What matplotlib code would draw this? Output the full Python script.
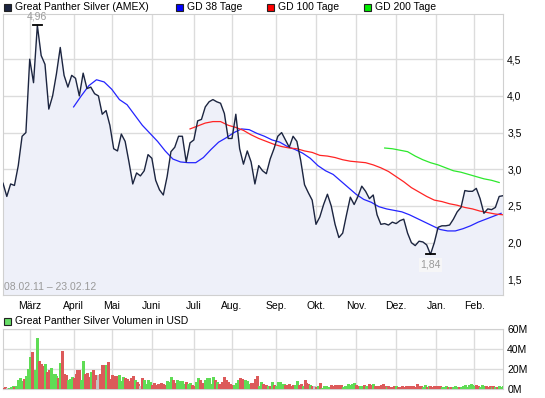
import numpy as np
import pandas as pd
import matplotlib
matplotlib.use("Agg")
import matplotlib.pyplot as plt
from matplotlib.patches import Rectangle

W, H = 545, 398
plt.rcParams["font.family"] = ["Liberation Sans", "DejaVu Sans"]
FS = 7.5

# ---- data ----
START, END = "2011-02-08", "2012-02-23"
HOLIDAYS = ["2011-02-21", "2011-04-22", "2011-05-30", "2011-07-04", "2011-09-05",
            "2011-11-24", "2011-12-26", "2012-01-02", "2012-01-16", "2012-02-20"]
MONTHS = ["2011-03-01", "2011-04-01", "2011-05-01", "2011-06-01", "2011-07-01", "2011-08-01",
          "2011-09-01", "2011-10-01", "2011-11-01", "2011-12-01", "2012-01-01", "2012-02-01"]
MONTH_LABELS = ["März", "April", "Mai", "Juni", "Juli", "Aug.", "Sep.", "Okt.", "Nov.",
                "Dez.", "Jan.", "Feb."]

# close price, every 2nd trading day
PRICE_STEP = 2
PRICE = [2.81, 2.63, 2.80, 2.78, 3.05, 3.45, 3.50, 4.50, 4.18, 4.96,
         4.55, 4.43, 3.82, 4.00, 4.30, 4.66, 4.28, 4.12, 4.28, 4.24,
         4.00, 4.31, 4.10, 4.12, 4.03, 4.00, 3.75, 3.80, 3.60, 3.28,
         3.25, 3.48, 3.38, 3.10, 2.80, 2.95, 2.91, 2.98, 3.20, 3.15,
         2.85, 2.72, 2.65, 2.90, 3.24, 3.30, 3.45, 3.45, 3.10, 3.36,
         3.40, 3.66, 3.68, 3.85, 3.92, 3.95, 3.92, 3.90, 3.76, 3.42,
         3.42, 3.75, 3.28, 3.07, 3.25, 3.10, 2.80, 3.05, 2.98, 2.94,
         3.14, 3.28, 3.45, 3.50, 3.40, 3.30, 3.45, 3.38, 3.12, 2.79,
         2.68, 2.58, 2.25, 2.35, 2.52, 2.66, 2.50, 2.25, 2.07, 2.13,
         2.38, 2.62, 2.52, 2.63, 2.77, 2.70, 2.60, 2.65, 2.38, 2.25,
         2.26, 2.24, 2.28, 2.26, 2.30, 2.32, 2.13, 2.00, 1.96, 2.02,
         2.01, 1.97, 1.84, 2.00, 2.21, 2.23, 2.23, 2.24, 2.32, 2.42,
         2.48, 2.71, 2.70, 2.70, 2.74, 2.60, 2.40, 2.46, 2.45, 2.48,
         2.63, 2.64]

# moving averages, every 4th trading day from the given day
MA_STEP = 4
GD38_FROM = 37
GD38 = [3.85, 4.00, 4.14, 4.22, 4.19, 4.09, 3.95, 3.88, 3.74, 3.60,
        3.49, 3.38, 3.25, 3.14, 3.10, 3.09, 3.09, 3.16, 3.27, 3.37,
        3.43, 3.50, 3.55, 3.54, 3.49, 3.45, 3.40, 3.37, 3.31, 3.27,
        3.22, 3.15, 3.05, 2.98, 2.93, 2.84, 2.75, 2.66, 2.59, 2.55,
        2.49, 2.46, 2.44, 2.42, 2.38, 2.33, 2.28, 2.23, 2.18, 2.16,
        2.16, 2.19, 2.23, 2.28, 2.32, 2.36, 2.40]
GD100_FROM = 98
GD100 = [3.55, 3.59, 3.63, 3.65, 3.65, 3.60, 3.57, 3.53, 3.47, 3.42,
         3.38, 3.34, 3.31, 3.29, 3.28, 3.25, 3.23, 3.19, 3.18, 3.16,
         3.13, 3.11, 3.10, 3.09, 3.06, 3.02, 2.97, 2.90, 2.83, 2.75,
         2.69, 2.63, 2.58, 2.56, 2.53, 2.51, 2.48, 2.46, 2.43, 2.41,
         2.39, 2.38]
GD200_FROM = 200
GD200 = [3.29, 3.28, 3.26, 3.24, 3.18, 3.13, 3.09, 3.06, 3.02, 2.98,
         2.96, 2.93, 2.90, 2.87, 2.85, 2.82]

# volume in Mio USD, one bar per trading day; g = up, r = down, n = unchanged
VOLUME = [1.3, 2.3, 1, 0.8, 2, 3, 2.3, 3.3, 9, 11.3,
          8, 10, 13, 20, 32.3, 37.3, 15, 19, 51.3, 28,
          25, 23, 25, 17.3, 19, 21, 15, 15, 13, 11.3,
          26.3, 38.3, 15, 13.7, 9, 10, 12.3, 10.7, 15, 19,
          19, 9, 28, 15, 16.3, 12.3, 17.3, 19, 14, 9,
          14, 15, 24, 24, 24, 27, 10, 14, 13, 13,
          13, 14, 8, 12, 11, 10, 8, 11, 13, 9,
          7, 5, 3, 11, 9, 5, 9, 7, 4, 6,
          4, 5, 5, 6, 5, 4, 8,
          6.7, 12, 9, 6, 9, 7, 8, 8, 5, 7,
          5, 6, 4, 3, 7, 11, 9, 6, 6, 9,
          11, 11, 5, 12, 9, 7, 5, 5, 7, 12,
          9, 7, 5, 4, 4, 6, 9, 11, 10, 8,
          9, 8, 5, 6, 6, 10, 13, 3, 7, 5,
          4, 4, 3, 3, 7, 4, 3, 7, 7, 5,
          5, 4, 4, 5, 3, 4, 4, 8, 4, 5,
          3, 9, 6, 5, 4, 3, 3, 2, 3, 6,
          1, 3, 3, 1, 2, 4, 3, 4,
          4, 4, 4, 2, 3, 3, 5, 4, 5, 6,
          4, 3, 3, 3, 4, 3, 3, 5, 4, 5,
          3, 3, 3, 4, 5, 3, 2, 3, 2, 2,
          3, 3, 2, 2, 3, 2, 3, 2, 3, 3,
          3, 2, 5, 3, 3, 2, 4, 2, 3, 3,
          2, 3, 3, 3, 3, 2, 2, 3, 2, 2,
          2, 2, 3, 2, 2, 2, 3, 4, 2, 4,
          5, 4, 3, 4, 3, 2, 4, 3, 3, 2,
          3, 2, 3, 2, 2, 3, 2, 3]
VOL_DIR = ("rrngggrggg" "grgggrrggr" "rrgrrggggr" "grrrgggrrr" "rggrrrgrrn"
           "nrrrgrrrrr" "rgggrrrrrg" "rrnrggggrr" "rrrrrrg"
           "ggrrgggggr" "ggrrggrrrg" "ggggrgrrrr" "rrrrgggrrr" "gggrrrrggr"
           "rrgrgrgggg" "grrrrrggrr" "grrrgrnrgr" "gggggrrr"
           "rrrggggggg" "rrggrggrrg" "rrrrrrgrrr" "rgrrrrrrrr" "rrrrrggrgr"
           "rrrrrgggrg" "rgggrggggg" "gggrrgggrr" "rgrgrggg")

NAVY = "#1c2540"
GRID = "#dcdcdc"
LABEL_GREY = "#9a9a9a"
BAR_COLORS = {"g": "#5fdc55", "r": "#dc5a5a", "n": "#c4c4c4"}


def fmt(v):
    return f"{v:.1f}".replace(".", ",")


def style_axis(ax):
    ax.set_facecolor("white")
    ax.grid(True, color=GRID, lw=1.0)
    ax.set_axisbelow(True)
    for s in ax.spines.values():
        s.set_color("#d0d0d0")
    ax.tick_params(length=0, labelsize=FS, colors="black")
    ax.yaxis.tick_right()


def legend_box(fig, x, y, color, text):
    fig.patches.append(Rectangle((x / W, 1 - (y + 4) / H), 7 / W, 7 / H,
                                 transform=fig.transFigure, facecolor=color,
                                 edgecolor="#222222", lw=0.8))
    fig.text((x + 11) / W, 1 - y / H, text, fontsize=FS, va="center", ha="left")


def main():
    dates = pd.bdate_range(START, END, freq="C", holidays=HOLIDAYS)
    month_pos = [int(np.searchsorted(dates.values, np.datetime64(m))) for m in MONTHS]
    last = len(VOLUME) - 1

    fig = plt.figure(figsize=(W / 100, H / 100), dpi=100)
    ax = fig.add_axes([3 / W, (H - 295) / H, 500 / W, 281 / H])
    axv = fig.add_axes([3 / W, (H - 389) / H, 500 / W, 60 / H])

    # ---- price panel ----
    style_axis(ax)
    xp = np.arange(len(PRICE)) * PRICE_STEP
    price = np.array(PRICE)
    ax.fill_between(xp, price, 0, color="#eef0f9", lw=0, zorder=1)
    ax.plot(xp, price, color=NAVY, lw=1.0, zorder=4)
    for vals, start, col in [(GD38, GD38_FROM, "#2424ff"), (GD100, GD100_FROM, "#ff2424"),
                             (GD200, GD200_FROM, "#2de82d")]:
        xm = start + np.arange(len(vals)) * MA_STEP
        ax.plot(xm, vals, color=col, lw=0.9, zorder=3)

    ax.set_xlim(0, last)
    ax.set_ylim(1.287, 5.116)
    yt = [1.5, 2.0, 2.5, 3.0, 3.5, 4.0, 4.5]
    ax.set_yticks(yt)
    ax.set_yticklabels([fmt(v) for v in yt])
    ax.set_xticks(month_pos)
    ax.set_xticklabels(MONTH_LABELS)
    ax.tick_params(axis="x", pad=4)
    ax.tick_params(axis="y", pad=3)

    # high / low markers
    imax, imin = int(np.argmax(price)), int(np.argmin(price))
    for i, va, dy in [(imax, "bottom", 3), (imin, "top", -4)]:
        ax.plot([xp[i] - 2.2, xp[i] + 2.2], [price[i]] * 2, color="black", lw=1.3, zorder=5)
        ax.annotate(f"{price[i]:.2f}".replace(".", ","), (xp[i], price[i]),
                    xytext=(0, dy), textcoords="offset points", ha="center", va=va,
                    fontsize=FS, color=LABEL_GREY, annotation_clip=False, zorder=6,
                    bbox=dict(boxstyle="square,pad=0.15", fc="#f7f7f7", ec="none",
                              alpha=0.0 if i == imax else 0.9))
    ax.text(0.002, 0.03, f"{dates[0]:%d.%m.%y} – {dates[-1]:%d.%m.%y}", transform=ax.transAxes,
            fontsize=FS, color=LABEL_GREY, ha="left", va="center", zorder=6)

    # ---- volume panel ----
    style_axis(axv)
    xv = np.arange(len(VOLUME))
    axv.vlines(xv, 0, VOLUME, colors=[BAR_COLORS[c] for c in VOL_DIR], lw=1.0,
               antialiased=False, zorder=3)
    axv.set_xlim(0, last)
    axv.set_ylim(0, 60)
    vt = [0, 20, 40, 60]
    axv.set_yticks(vt)
    axv.set_yticklabels([f"{v}M" for v in vt])
    axv.set_xticks(month_pos)
    axv.set_xticklabels([])
    axv.tick_params(axis="y", pad=3)

    # ---- legends ----
    legend_box(fig, 4, 7, NAVY, "Great Panther Silver (AMEX)")
    legend_box(fig, 176, 7, "#0000ff", "GD 38 Tage")
    legend_box(fig, 267, 7, "#ff0000", "GD 100 Tage")
    legend_box(fig, 364, 7, "#00ee00", "GD 200 Tage")
    legend_box(fig, 4, 321, "#66dd66", "Great Panther Silver Volumen in USD")

    fig.savefig("out.png", dpi=100)
    plt.close(fig)


if __name__ == "__main__":
    main()
